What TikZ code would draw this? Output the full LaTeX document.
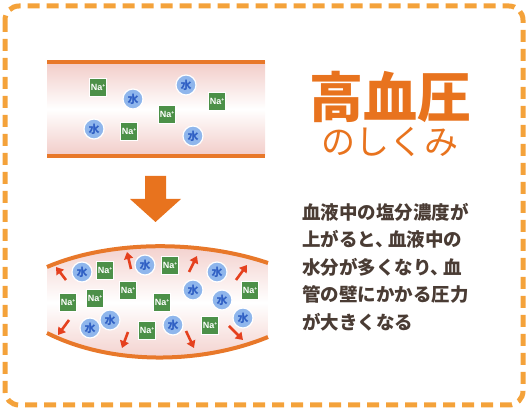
\documentclass[tikz,border=0pt]{standalone}
\usepackage{fontspec}
\setmainfont{Noto Sans CJK JP}
\setsansfont{Liberation Sans}
\usetikzlibrary{arrows.meta}
\definecolor{frameorange}{HTML}{F4A23A}
\definecolor{wallorange}{HTML}{E8782A}
\definecolor{titleorange}{HTML}{E8731E}
\definecolor{nagreen}{HTML}{4C9048}
\definecolor{waterblue}{HTML}{8FB6EC}
\definecolor{waterdark}{HTML}{2F5FC4}
\definecolor{pushred}{HTML}{E5401E}
\definecolor{bloodpink}{HTML}{F2CCC8}
\definecolor{textbrown}{HTML}{4A3C34}
\newcommand\sodium[3]{% name, x, y
\node[na] (#1) at (#2,#3) {Na\raisebox{3pt}{\fontsize{5}{5}\selectfont+}};}
\newcommand\water[3]{% name, x, y
\node[mizu] (#1) at (#2,#3) {水};}
\newcommand\push[4]{% from, to
\draw[push] (#1,#2) -- (#3,#4);}
\newcommand\tou{、\kern-.3em}

\begin{document}
\begin{tikzpicture}[x=1pt,y=-1pt,
    frame/.style={draw=frameorange,line width=5pt,rounded corners=14pt,dash pattern=on 12pt off 7pt},
    wall/.style={draw=wallorange,line width=4pt},
    blood/.style={top color=bloodpink,bottom color=bloodpink,middle color=white},
    na/.style={fill=nagreen,draw=white,line width=0.8pt,minimum width=17pt,minimum height=18pt,
      inner sep=0pt,text=white,font=\sffamily\bfseries\fontsize{9}{9}\selectfont},
    mizu/.style={circle,fill=waterblue,draw=white,line width=1.2pt,minimum size=20pt,inner sep=0pt,
      text=waterdark,font=\bfseries\fontsize{11}{11}\selectfont},
    push/.style={draw=pushred,line width=2.6pt,-{Triangle[length=7pt,width=9pt]}}]
  \useasboundingbox (0,0) rectangle (528,411);
  \draw[frame] (5,6) rectangle (523,405);

  % normal vessel
  \shade[blood] (47,62) rectangle (265,156);
  \draw[wall] (47,62) -- (265,62);
  \draw[wall] (47,156) -- (265,156);
  \sodium{na1}{98}{87}
  \sodium{na2}{217}{101}
  \sodium{na3}{167}{114}
  \sodium{na4}{129}{131}
  \water{w1}{133}{99}
  \water{w2}{186}{85}
  \water{w3}{94}{129}
  \water{w4}{193}{136}

  \fill[titleorange] (145,176) -- (166,176) -- (166,199) -- (181,199) -- (155.5,222)
    -- (130,199) -- (145,199) -- cycle;

  % swollen vessel
  \shade[blood]
    (47,267) .. controls (110,240) and (200,240) .. (268,263)
    -- (268,337) .. controls (200,365) and (110,365) .. (47,333) -- cycle;
  \draw[wall] (47,267) .. controls (110,240) and (200,240) .. (268,263);
  \draw[wall] (47,333) .. controls (110,365) and (200,365) .. (268,337);
  \sodium{nb1}{105}{270}
  \sodium{nb2}{170}{265}
  \sodium{nb3}{68}{302}
  \sodium{nb4}{95}{298}
  \sodium{nb5}{128}{290}
  \sodium{nb6}{162}{302}
  \sodium{nb7}{250}{290}
  \sodium{nb8}{147}{330}
  \sodium{nb9}{210}{325}
  \water{wb1}{82}{272}
  \water{wb2}{145}{265}
  \water{wb3}{217}{272}
  \water{wb4}{193}{290}
  \water{wb5}{222}{300}
  \water{wb6}{90}{328}
  \water{wb7}{110}{320}
  \water{wb8}{173}{325}
  \water{wb9}{243}{318}
  \push{66}{280}{56}{267}
  \push{131}{269}{127}{252}
  \push{189}{272}{197}{256}
  \push{236}{280}{247}{265}
  \push{69}{320}{58}{335}
  \push{128}{332}{122}{348}
  \push{186}{331}{194}{348}
  \push{229}{326}{243}{340}

  \node[text=titleorange,font=\bfseries\fontsize{54}{54}\selectfont] (title) at (390,97) {高血圧};
  \node[text=titleorange,font=\fontsize{34}{34}\selectfont] (subtitle) at (390,142) {のしくみ};
  \node[anchor=north west,align=left,inner sep=0pt,text=textbrown,
    font=\bfseries\fontsize{18.5}{27.5}\selectfont] (desc) at (302,203)
    {血液中の塩分濃度が\\上がると\tou 血液中の\\水分が多くなり\tou 血\\管の壁にかかる圧力\\が大きくなる};
\end{tikzpicture}
\end{document}
